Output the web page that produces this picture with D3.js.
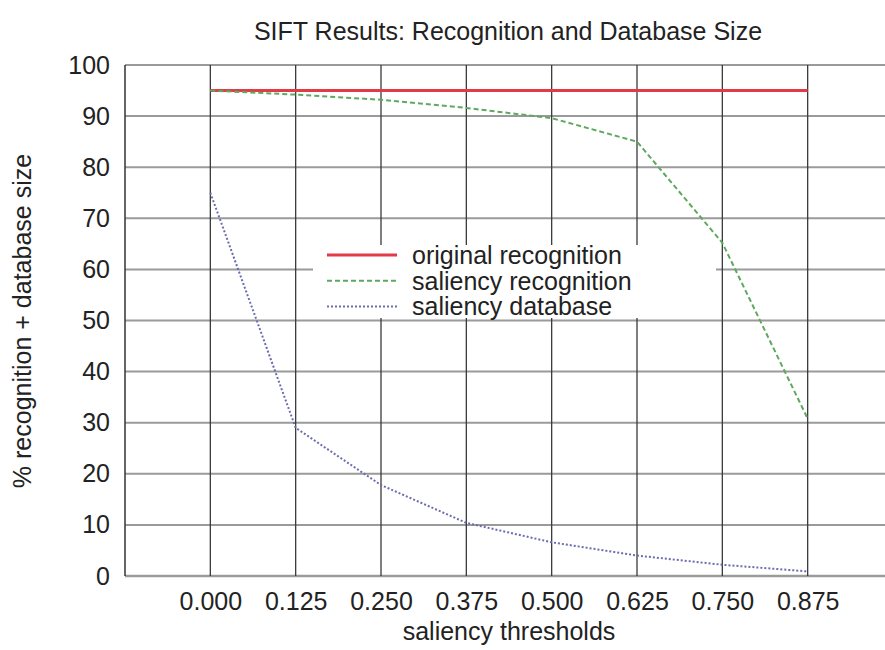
<!DOCTYPE html>
<html><head><meta charset="utf-8">
<script src="https://cdn.jsdelivr.net/npm/d3@7"></script>
<style>body{margin:0;background:#fff;} svg{display:block;font-family:"Liberation Sans",Arial,sans-serif;}</style>
</head><body>
<svg id="c" width="885" height="650"></svg>
<script>
const thresholds = [0.000, 0.125, 0.250, 0.375, 0.500, 0.625, 0.750, 0.875];
const xTickLabels = ["0.000","0.125","0.250","0.375","0.500","0.625","0.750","0.875"];
const yTicks = [0,10,20,30,40,50,60,70,80,90,100];
const originalRecognition = [95,95,95,95,95,95,95,95];
const saliencyRecognition = [95,94.2,93.2,91.6,89.6,85,65.2,30.8];
const saliencyDatabase = [75,29,17.8,10.4,6.6,4,2.2,0.9];
const seriesNames = ["original recognition","saliency recognition","saliency database"];
const seriesColors = ["#e23a46","#5fa85f","#6b6bb0"];

const svg = d3.select("#c");
const x = d3.scaleLinear().domain([-0.125, 1.0]).range([125, 893]);
const y = d3.scaleLinear().domain([0, 100]).range([576, 65]);
const FS = 25;

// horizontal grid
svg.append("g").selectAll("line").data(yTicks).join("line")
  .attr("x1", 125).attr("x2", 885)
  .attr("y1", d => y(d)).attr("y2", d => y(d))
  .attr("stroke", "#9a9a9a").attr("stroke-width", d => d===0?2.5:2);
// vertical grid
svg.append("g").selectAll("line").data(thresholds).join("line")
  .attr("x1", d => x(d)).attr("x2", d => x(d))
  .attr("y1", y(100)).attr("y2", y(0))
  .attr("stroke", "#3a3a3a").attr("stroke-width", 1.3);
// left border
svg.append("line").attr("x1",125).attr("x2",125).attr("y1",y(100)).attr("y2",y(0))
  .attr("stroke","#333").attr("stroke-width",1.5);

// axes (labels only)
const yAxis = d3.axisLeft(y).tickValues(yTicks).tickSize(0).tickPadding(15);
const gy = svg.append("g").attr("transform","translate(125,0)").call(yAxis);
gy.select(".domain").remove();
gy.selectAll("text").attr("font-size", FS).attr("fill","#222").attr("font-family","Liberation Sans, Arial, sans-serif");

const xAxis = d3.axisBottom(x).tickValues(thresholds).tickFormat((d,i)=>xTickLabels[i]).tickSize(0).tickPadding(16);
const gx = svg.append("g").attr("transform",`translate(0,${y(0)})`).call(xAxis);
gx.select(".domain").remove();
gx.selectAll("text").attr("font-size", FS).attr("fill","#222").attr("font-family","Liberation Sans, Arial, sans-serif");

// lines
const line = d3.line().x((d,i)=>x(thresholds[i])).y(d=>y(d));
const dashes = [null, "5,3", "2,2"];
const widths = [3, 2, 2];
[originalRecognition, saliencyRecognition, saliencyDatabase].forEach((s,k)=>{
  svg.append("path").datum(s).attr("d", line).attr("fill","none")
    .attr("stroke", seriesColors[k]).attr("stroke-width", widths[k])
    .attr("stroke-dasharray", dashes[k]);
});

// legend
svg.append("rect").attr("x",313).attr("y",245).attr("width",403).attr("height",73).attr("fill","#fff");
const lg = svg.append("g");
seriesNames.forEach((n,k)=>{
  const yy = 255 + k*25.8;
  lg.append("line").attr("x1",327).attr("x2",397).attr("y1",yy).attr("y2",yy)
    .attr("stroke",seriesColors[k]).attr("stroke-width",widths[k]).attr("stroke-dasharray",dashes[k]);
  lg.append("text").attr("x",412).attr("y",yy).attr("dy","0.35em")
    .attr("font-size",FS).attr("fill","#222").text(n);
});

// title and axis titles
svg.append("text").attr("x",508).attr("y",40).attr("text-anchor","middle")
  .attr("font-size",FS).attr("fill","#222").text("SIFT Results: Recognition and Database Size");
svg.append("text").attr("x",509).attr("y",640).attr("text-anchor","middle")
  .attr("font-size",FS).attr("fill","#222").text("saliency thresholds");
svg.append("text").attr("transform","translate(31,321) rotate(-90)").attr("text-anchor","middle")
  .attr("font-size",FS).attr("fill","#222").text("% recognition + database size");
</script>
</body></html>
